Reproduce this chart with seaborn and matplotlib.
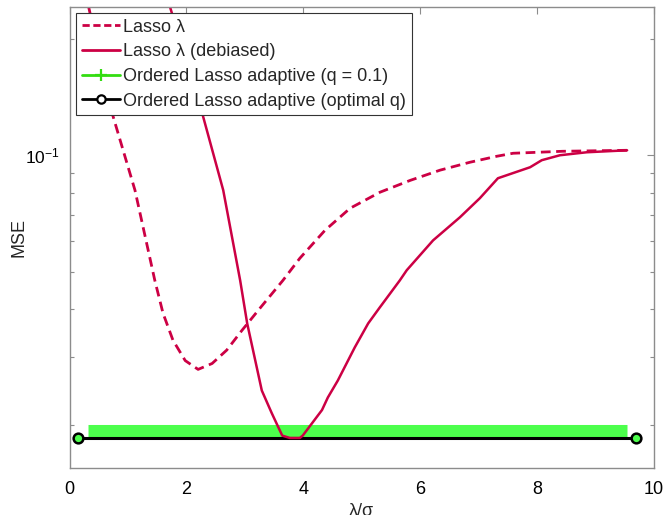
import numpy as np
import pandas as pd
import matplotlib
matplotlib.use("Agg")
import matplotlib.pyplot as plt
import seaborn as sns
from matplotlib.lines import Line2D
from matplotlib.ticker import LogLocator, NullFormatter, FixedLocator

# ---- data ----
lasso_x = [0.32, 0.74, 1.12, 1.46, 1.60, 1.77, 1.98, 2.20, 2.44, 2.69, 2.95, 3.26,
           3.65, 3.94, 4.37, 4.80, 5.31, 5.83, 6.34, 6.85, 7.31, 7.59, 8.44, 9.54]
lasso_y = [0.245, 0.1269, 0.0812, 0.0474, 0.0390, 0.0332, 0.0294, 0.0279, 0.0289,
           0.0313, 0.0352, 0.0402, 0.0474, 0.0541, 0.0639, 0.0729, 0.0802, 0.0861,
           0.0915, 0.0959, 0.0994, 0.1012, 0.1024, 0.1030]

deb_x = [0.32, 1.30, 1.72, 2.28, 2.63, 2.92, 3.04, 3.29, 3.46, 3.64, 3.77, 3.94, 3.99,
         4.32, 4.42, 4.59, 4.88, 5.11, 5.31, 5.65, 5.77, 6.22, 6.68, 7.02, 7.33,
         7.88, 8.08, 8.39, 8.85, 9.54]
deb_y = [1.50, 0.45, 0.242, 0.1269, 0.0812, 0.0474, 0.0367, 0.0246, 0.0215, 0.0188,
         0.01854, 0.01854, 0.0188, 0.0219, 0.0236, 0.0261, 0.0318, 0.0367, 0.0404,
         0.0474, 0.0504, 0.0602, 0.0691, 0.0774, 0.0872, 0.0931, 0.0971, 0.1000,
         0.1018, 0.1030]

ord01_x = [0.32, 9.54]
ord01_y = [0.01932, 0.01932]

ordopt_x = [0.14, 9.70]
ordopt_y = [0.01849, 0.01849]

labels = ["Lasso λ", "Lasso λ (debiased)",
          "Ordered Lasso adaptive (q = 0.1)", "Ordered Lasso adaptive (optimal q)"]
xticks = [0, 2, 4, 6, 8, 10]

# ---- style ----
sns.set_style("white")
plt.rcParams["font.family"] = ["Liberation Sans", "DejaVu Sans"]

crimson = "#cc0044"
green_band = "#4cff4c"
green_leg = "#33dd11"
gray = "#8c8c8c"

fig = plt.figure(figsize=(6.65, 5.15), dpi=100)
ax = fig.add_axes([69.5 / 665, 1 - 468 / 515, (654 - 69.5) / 665, (468 - 7) / 515])

df_l = pd.DataFrame({"x": lasso_x, "y": lasso_y})
df_d = pd.DataFrame({"x": deb_x, "y": deb_y})
df_g = pd.DataFrame({"x": ord01_x, "y": ord01_y})
df_b = pd.DataFrame({"x": ordopt_x, "y": ordopt_y})

sns.lineplot(data=df_g, x="x", y="y", ax=ax, color=green_band, linewidth=9.4,
             solid_capstyle="butt", sort=False, estimator=None)
sns.lineplot(data=df_b, x="x", y="y", ax=ax, color="black", linewidth=2.2,
             marker="o", markersize=7, markerfacecolor=green_band,
             markeredgecolor="black", markeredgewidth=1.8, sort=False, estimator=None)
sns.lineplot(data=df_l, x="x", y="y", ax=ax, color=crimson, linewidth=2.0,
             linestyle=(0, (3.5, 2.0)), sort=False, estimator=None)
sns.lineplot(data=df_d, x="x", y="y", ax=ax, color=crimson, linewidth=1.8,
             sort=False, estimator=None)

ax.set_yscale("log")
ax.set_xlim(0, 10)
ax.set_ylim(0.0155, 0.242)
ax.xaxis.set_major_locator(FixedLocator(xticks))
ax.set_xticklabels([str(t) for t in xticks])
ax.yaxis.set_major_locator(LogLocator(base=10))
ax.yaxis.set_minor_locator(LogLocator(base=10, subs=np.arange(2, 10)))
ax.yaxis.set_minor_formatter(NullFormatter())

for s in ax.spines.values():
    s.set_visible(True)
    s.set_color(gray)
    s.set_linewidth(1.0)

ax.tick_params(axis="both", which="major", direction="in", length=5, width=0.8,
               color=gray, top=True, right=True, labelsize=13, labelcolor="black")
ax.tick_params(axis="x", which="major", pad=9)
ax.tick_params(axis="y", which="major", pad=7, labelsize=12.5)
ax.tick_params(axis="y", which="minor", direction="in", length=3, width=0.8,
               color=gray, left=True, right=True)

ax.set_xlabel("λ/σ", fontsize=13, labelpad=4)
ax.set_ylabel("MSE", fontsize=13, labelpad=-2)

handles = [
    Line2D([], [], color=crimson, linewidth=2.0, linestyle=(0, (2.6, 1.3))),
    Line2D([], [], color=crimson, linewidth=2.0),
    Line2D([], [], color=green_leg, linewidth=2.0, marker="+", markersize=9,
           markeredgewidth=1.6),
    Line2D([], [], color="black", linewidth=2.0, marker="o", markersize=6,
           markerfacecolor="white", markeredgewidth=1.6),
]
leg = ax.legend(handles, labels, loc="upper left", bbox_to_anchor=(0.011, 0.987),
                borderaxespad=0, fontsize=13.0, frameon=True, fancybox=False,
                framealpha=1, edgecolor="#333333", handlelength=2.1,
                handletextpad=0.2, labelspacing=0.42, borderpad=0.32)
leg.get_frame().set_linewidth(0.8)

fig.savefig("out.png", dpi=100)
